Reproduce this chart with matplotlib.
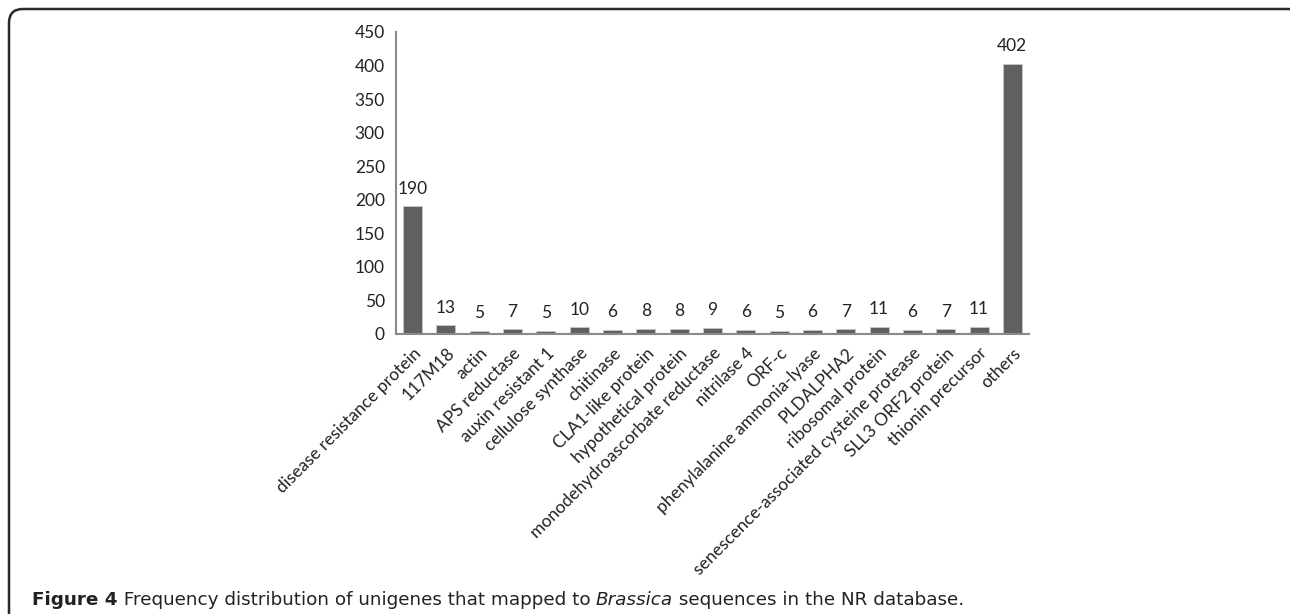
import matplotlib
matplotlib.use('Agg')
import matplotlib.pyplot as plt
from matplotlib.patches import FancyBboxPatch

# data
categories = ['disease resistance protein', '117M18', 'actin', 'APS reductase',
              'auxin resistant 1', 'cellulose synthase', 'chitinase', 'CLA1-like protein',
              'hypothetical protein', 'monodehydroascorbate reductase', 'nitrilase 4', 'ORF-c',
              'phenylalanine ammonia-lyase', 'PLDALPHA2', 'ribosomal protein',
              'senescence-associated cysteine protease', 'SLL3 ORF2 protein',
              'thionin precursor', 'others']
counts = [190, 13, 5, 7, 5, 10, 6, 8, 8, 9, 6, 5, 6, 7, 11, 6, 7, 11, 402]
yticks = [0, 50, 100, 150, 200, 250, 300, 350, 400, 450]

W, H = 1290, 614
fig = plt.figure(figsize=(W / 100, H / 100), dpi=100)
plt.rcParams['font.family'] = ['Lato', 'DejaVu Sans']

# rounded frame, drawn in pixel units on a background axes
bg = fig.add_axes([0, 0, 1, 1])
bg.set_xlim(0, W); bg.set_ylim(H, 0); bg.axis('off')
bg.add_patch(FancyBboxPatch((9, 9), 1302 - 9, 660, boxstyle='round,pad=0,rounding_size=14',
                            fill=False, lw=1.8, ec='#2a2a2a'))

ax = fig.add_axes([396 / W, 1 - 334 / H, (1029 - 396) / W, (334 - 32) / H])
x = list(range(len(categories)))
ax.bar(x, counts, width=0.57, color='#606060', edgecolor='#c8c8c8', lw=0.6)
ax.set_xlim(-0.5, len(categories) - 0.5)
ax.set_ylim(0, 450)
ax.set_yticks(yticks)
ax.tick_params(axis='y', length=0, labelsize=12.5, colors='#222222', pad=8)
ax.set_xticks(x)
ax.set_xticklabels(categories, rotation=45, ha='right', rotation_mode='anchor', fontsize=12.5)
ax.tick_params(axis='x', length=0, colors='#222222', pad=8)
ax.patch.set_alpha(0)
for s in ['top', 'right']:
    ax.spines[s].set_visible(False)
for s in ['left', 'bottom']:
    ax.spines[s].set_color('#8a8a8a')
    ax.spines[s].set_linewidth(1.5)
for i, v in enumerate(counts):
    ax.annotate(str(v), (i, v), xytext=(0, 7), textcoords='offset points',
                ha='center', va='bottom', fontsize=12.5, color='#222222')

# caption with mixed styles
fig.canvas.draw()
r = fig.canvas.get_renderer()
parts = [('Figure 4', 'bold', 'normal'),
         (' Frequency distribution of unigenes that mapped to ', 'normal', 'normal'),
         ('Brassica', 'normal', 'italic'),
         (' sequences in the NR database.', 'normal', 'normal')]
xpos = 32
for txt, wt, st in parts:
    t = fig.text(xpos / W, 1 - 600 / H, txt, fontsize=13.2, fontweight=wt, fontstyle=st,
                 va='center', ha='left', color='#222222', family='DejaVu Sans')
    xpos += t.get_window_extent(r).width

fig.savefig('out.png', dpi=100)
